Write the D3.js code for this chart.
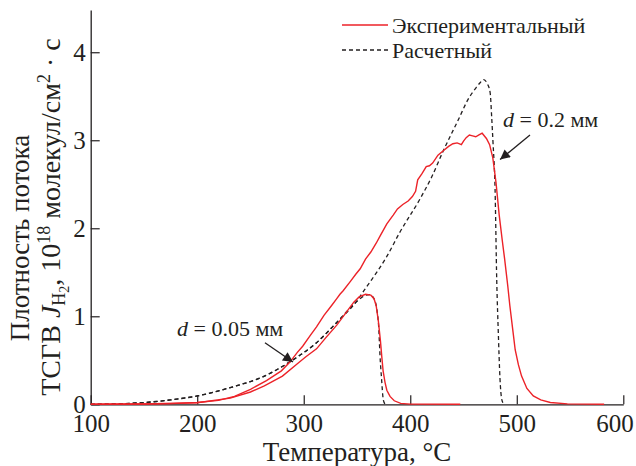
<!DOCTYPE html>
<html>
<head>
<meta charset="utf-8">
<script src="https://cdn.jsdelivr.net/npm/d3@7"></script>
<style>
  body { margin: 0; background: #fff; }
  svg { display: block; font-family: "Liberation Serif", "Times New Roman", serif; }
</style>
</head>
<body>
<svg id="chart" width="636" height="466"></svg>
<script>
// --- data (temperature, °C / flux, 1e18 molecules/cm2·s)
const expTemp05 = [100, 150, 200, 231, 250, 263, 280, 294, 302, 312, 321, 331, 339, 347, 352, 358, 363, 366, 368, 370, 372, 373.2, 374.5, 376.3, 378, 381, 385, 391, 400, 447];
const expFlux05 = [0, 0.003, 0.018, 0.07, 0.14, 0.21, 0.32, 0.46, 0.54, 0.63, 0.76, 0.9, 1.03, 1.16, 1.22, 1.25, 1.24, 1.2, 1.12, 0.95, 0.72, 0.55, 0.38, 0.25, 0.16, 0.09, 0.04, 0.01, 0.002, 0];

const expTemp02 = [100, 150, 175, 200, 220, 235, 250, 265, 279, 287, 294, 299, 306, 312, 319, 326, 331, 334, 337, 344, 349, 353, 358, 363, 368, 372, 378, 384, 388, 393, 398, 402, 405, 407, 411, 415, 418, 421, 426, 431, 436, 440, 444, 448, 450, 452.5, 455.5, 458.5, 461.5, 464.5, 467.5, 471.5, 474.5, 477.5, 480.5, 483.5, 486.5, 488.5, 491.5, 493.5, 496.5, 498.5, 501.5, 504.5, 509.5, 515.5, 522.5, 531.5, 547.5, 582];
const expFlux02 = [0, 0.003, 0.008, 0.02, 0.045, 0.09, 0.17, 0.27, 0.38, 0.48, 0.59, 0.66, 0.78, 0.88, 1.01, 1.12, 1.2, 1.25, 1.29, 1.4, 1.48, 1.54, 1.65, 1.73, 1.83, 1.92, 2.05, 2.15, 2.22, 2.27, 2.31, 2.36, 2.42, 2.55, 2.62, 2.7, 2.71, 2.74, 2.83, 2.88, 2.93, 2.96, 2.97, 2.95, 2.99, 3.03, 3.06, 3.05, 3.04, 3.06, 3.08, 3.02, 2.95, 2.8, 2.52, 2.15, 1.85, 1.66, 1.35, 1.12, 0.82, 0.62, 0.45, 0.32, 0.18, 0.095, 0.05, 0.02, 0.005, 0];

const calcTemp05 = [100, 125, 150, 175, 200, 231, 263, 288, 312, 331, 349, 354, 358, 362, 365.5, 368.5, 370.5, 371.6, 373, 374.7, 376.5];
const calcFlux05 = [0, 0.005, 0.02, 0.05, 0.095, 0.19, 0.32, 0.49, 0.7, 0.93, 1.16, 1.21, 1.24, 1.245, 1.21, 1.09, 0.85, 0.55, 0.3, 0.05, 0];

const calcTemp02 = [100, 125, 150, 175, 200, 231, 263, 288, 312, 331, 349, 357, 364, 378, 390, 409, 420, 431, 445, 455, 462, 466, 469, 472, 475, 476.5, 477.7, 479.6, 481.2, 482.7, 484.2, 486, 488];
const calcFlux02 = [0, 0.005, 0.02, 0.05, 0.095, 0.19, 0.32, 0.49, 0.7, 0.93, 1.16, 1.3, 1.42, 1.68, 1.95, 2.33, 2.58, 2.88, 3.23, 3.48, 3.6, 3.66, 3.69, 3.65, 3.54, 3.25, 2.97, 2.45, 1.4, 0.8, 0.3, 0.05, 0];

const xTicks = [100, 200, 300, 400, 500, 600];
const yTicks = [0, 1, 2, 3, 4];
const legendLabels = ["Экспериментальный", "Расчетный"];
// annotation: label value, arrow tail (T, flux), arrow tip (T, flux)
const notes = [
  { d: "0.05", tail: [263.6, 0.70], tip: [289.9, 0.48] },
  { d: "0.2",  tail: [512.4, 3.06], tip: [484.3, 2.78] }
];

const svg = d3.select("#chart");
const x = d3.scaleLinear().domain([100, 600]).range([90.7, 623.3]);
const y = d3.scaleLinear().domain([0, 4.48]).range([404.3, 10]);

const red = "#ec2228";
const ink = "#231f20";

// axes
const gx = svg.append("g")
  .attr("transform", `translate(0,${y(0)})`)
  .call(d3.axisBottom(x).tickValues(xTicks).tickSize(-9).tickSizeOuter(0).tickPadding(10));
const gy = svg.append("g")
  .attr("transform", `translate(${x(100)},0)`)
  .call(d3.axisLeft(y).tickValues(yTicks).tickFormat(d3.format("d")).tickSize(-9).tickSizeOuter(0).tickPadding(5));

[gx, gy].forEach(g => {
  g.selectAll("path.domain").attr("stroke", ink).attr("stroke-width", 1.3);
  g.selectAll(".tick line").attr("stroke", ink).attr("stroke-width", 1.2);
  g.selectAll(".tick text")
    .attr("fill", ink)
    .style("font-family", '"Liberation Serif", serif')
    .style("font-size", "25px");
});
// last x label is pulled inside the frame, as in the original
gx.selectAll(".tick text").filter(d => d === 600)
  .attr("text-anchor", "end").attr("x", 10);

// curves
const line = d3.line().x(d => x(d[0])).y(d => y(d[1]));
const zip = (a, b) => a.map((t, i) => [t, b[i]]);

svg.append("path")
  .datum(zip(calcTemp05, calcFlux05))
  .attr("d", line.curve(d3.curveMonotoneX))
  .attr("fill", "none").attr("stroke", ink).attr("stroke-width", 1.3)
  .attr("stroke-dasharray", "4,3");
svg.append("path")
  .datum(zip(calcTemp02, calcFlux02))
  .attr("d", line.curve(d3.curveMonotoneX))
  .attr("fill", "none").attr("stroke", ink).attr("stroke-width", 1.3)
  .attr("stroke-dasharray", "4,3");

svg.append("path")
  .datum(zip(expTemp05, expFlux05))
  .attr("d", line.curve(d3.curveLinear))
  .attr("fill", "none").attr("stroke", red).attr("stroke-width", 1.4);
svg.append("path")
  .datum(zip(expTemp02, expFlux02))
  .attr("d", line.curve(d3.curveLinear))
  .attr("fill", "none").attr("stroke", red).attr("stroke-width", 1.4);

// axis titles
svg.append("text")
  .attr("x", 357).attr("y", 461)
  .attr("text-anchor", "middle")
  .attr("fill", ink)
  .style("font-size", "27px")
  .text("Температура, °C");

svg.append("text")
  .attr("transform", "rotate(-90)")
  .attr("x", -238).attr("y", 29)
  .attr("text-anchor", "middle")
  .attr("fill", ink)
  .style("font-size", "27px")
  .text("Плотность потока");

const yt2 = svg.append("text")
  .attr("transform", "rotate(-90)")
  .attr("x", -217).attr("y", 60)
  .attr("text-anchor", "middle")
  .attr("fill", ink)
  .style("font-size", "28px");
yt2.append("tspan").text("ТСГВ ");
yt2.append("tspan").style("font-style", "italic").text("J");
yt2.append("tspan").attr("dy", 5).style("font-size", "18px").text("H");
yt2.append("tspan").attr("dy", 4).style("font-size", "14px").text("2");
yt2.append("tspan").attr("dy", -9).text(", 10");
yt2.append("tspan").attr("dy", -10).style("font-size", "18px").text("18");
yt2.append("tspan").attr("dy", 10).text(" молекул/см");
yt2.append("tspan").attr("dy", -10).style("font-size", "18px").text("2");
yt2.append("tspan").attr("dy", 10).text(" · с");

// legend
const legend = svg.append("g").attr("transform", "translate(342,0)");
legend.append("line").attr("x1", 0).attr("x2", 46).attr("y1", 25).attr("y2", 25)
  .attr("stroke", red).attr("stroke-width", 1.4);
legend.append("line").attr("x1", 0).attr("x2", 46).attr("y1", 50).attr("y2", 50)
  .attr("stroke", ink).attr("stroke-width", 1.3).attr("stroke-dasharray", "4,3");
legend.selectAll("text.lg").data(legendLabels).enter().append("text")
  .attr("class", "lg")
  .attr("x", 50).attr("y", (d, i) => 33 + i * 25)
  .attr("fill", ink)
  .style("font-size", "22px")
  .text(d => d);

// annotations with arrows
svg.append("defs").append("marker")
  .attr("id", "arr").attr("viewBox", "0 0 10 10")
  .attr("refX", 10).attr("refY", 5)
  .attr("markerWidth", 14).attr("markerHeight", 10)
  .attr("markerUnits", "userSpaceOnUse")
  .attr("orient", "auto")
  .append("path").attr("d", "M0,0L10,5L0,10Z").attr("fill", ink);

notes.forEach((n, i) => {
  svg.append("line")
    .attr("x1", x(n.tail[0])).attr("y1", y(n.tail[1]))
    .attr("x2", x(n.tip[0])).attr("y2", y(n.tip[1]))
    .attr("stroke", ink).attr("stroke-width", 1.3)
    .attr("marker-end", "url(#arr)");
  const t = svg.append("text")
    .attr("x", i === 0 ? 177 : 503).attr("y", i === 0 ? 336 : 127)
    .attr("fill", ink)
    .style("font-size", "22px");
  t.append("tspan").style("font-style", "italic").text("d");
  t.append("tspan").text(" = " + n.d + " мм");
});
</script>
</body>
</html>
